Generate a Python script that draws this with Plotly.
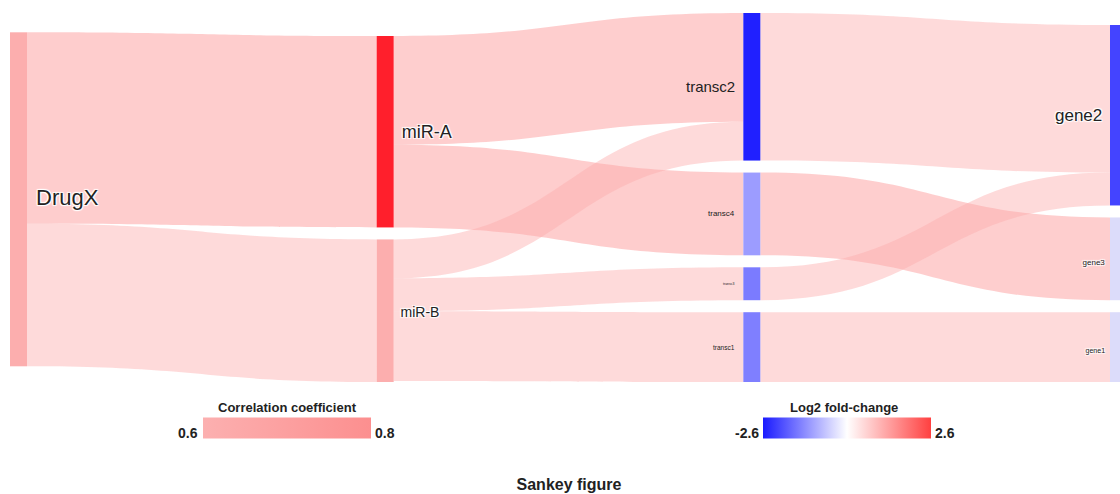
import plotly.graph_objects as go

# ---- data ----
node_names = ["DrugX", "miR-A", "miR-B", "transc2", "transc4", "transc3", "transc1", "gene2", "gene3", "gene1"]
node_layer = [0, 1, 1, 2, 2, 2, 2, 3, 3, 3]
node_label_sizes = [22, 18, 14, 15, 8, 3.5, 6.5, 17, 8, 7]
node_colors = ["#FCAEAE", "#FF1F2C", "#FCAEAE", "#2020FF", "#9C9CFF", "#7B7BFF", "#7F7FFF", "#4444FF", "#DCDCFA", "#DCDCFA"]

link_source = ["DrugX", "DrugX", "miR-A", "miR-A", "miR-B", "miR-B", "miR-B", "transc2", "transc4", "transc3", "transc1"]
link_target = ["miR-A", "miR-B", "transc2", "transc4", "transc2", "transc3", "transc1", "gene2", "gene3", "gene2", "gene1"]
link_value = [192, 143, 109, 83, 39, 33, 70, 148, 83, 33, 70]
link_corr = [0.79, 0.62, 0.78, 0.79, 0.61, 0.61, 0.61, 0.61, 0.78, 0.61, 0.61]

corr_range = [0.6, 0.8]
fc_range = [-2.6, 2.6]
corr_colorscale = [[0, "#FCB0B0"], [1, "#FC8F8F"]]
fc_colorscale = [[0, "#1A1AFF"], [0.5, "#FFFFFF"], [1, "#FF4040"]]

# ---- helpers ----
def hex_to_rgb(h):
    h = h.lstrip("#")
    return tuple(int(h[i:i + 2], 16) for i in (0, 2, 4))

lo = hex_to_rgb(corr_colorscale[0][1])
hi = hex_to_rgb(corr_colorscale[1][1])

def corr_color(c, alpha=0.45):
    t = (c - corr_range[0]) / (corr_range[1] - corr_range[0])
    t = max(0, min(1, t))
    r, g, b = [round(lo[i] + (hi[i] - lo[i]) * t) for i in range(3)]
    return f"rgba({r},{g},{b},{alpha})"

idx = {n: i for i, n in enumerate(node_names)}

FONT = "Liberation Sans, Arial, sans-serif"
W, H = 1127, 494
ML, MR, MT, MB = 10, 0, 13, 112
PW, PH = W - ML - MR, H - MT - MB
PAD, THICK = 12, 17
BASE_LABEL = 17
NBSP = "\u00a0"
TOP = MT
BOTTOM = TOP + PH

def px_x(p):
    return (p - ML) / PW

def px_y(p):
    return (BOTTOM - p) / PH

# node values (max of in/out flow)
inflow = [0] * len(node_names)
outflow = [0] * len(node_names)
for s, t, v in zip(link_source, link_target, link_value):
    outflow[idx[s]] += v
    inflow[idx[t]] += v
node_val = [max(a, b) for a, b in zip(inflow, outflow)]
n_layers = max(node_layer) + 1
ky = min(
    (PH - PAD * (sum(1 for l in node_layer if l == k) - 1)) / sum(v for v, l in zip(node_val, node_layer) if l == k)
    for k in range(n_layers)
)

# labels: plotly puts labels right of nodes except last layer; layer 2 labels go left via annotations
labels = []
extra_ann = []
cum = {k: 0.0 for k in range(n_layers)}
for i, n in enumerate(node_names):
    lay = node_layer[i]
    h = node_val[i] * ky
    center = cum[lay] + h / 2
    cum[lay] += h + PAD
    s = node_label_sizes[i]
    if lay == 2:
        labels.append("")
        x0 = lay * (PW - THICK) / (n_layers - 1)
        extra_ann.append(dict(
            text=n, x=(x0 - 6) / PW, y=1 - center / PH, xanchor="right", yanchor="middle",
            font=dict(family=FONT, size=s, color="#222222"),
        ))
    elif lay == n_layers - 1:
        labels.append(f"<span style='font-size:{s}px'>{n}{NBSP}</span>")
    else:
        labels.append(f"<span style='font-size:{s}px'>{NBSP}{n}</span>")

# last column stacked from the bottom (as in the reference layout)
last = [i for i, l in enumerate(node_layer) if l == n_layers - 1]
node_x = [None] * len(node_names)
node_y = [None] * len(node_names)
acc = 0.0
for i in reversed(last):
    h = node_val[i] * ky
    node_x[i] = (PW - THICK / 2) / PW
    node_y[i] = (PH - acc - h / 2) / PH
    acc += h + PAD

sankey = go.Sankey(
    arrangement="snap",
    domain=dict(x=[0, 1], y=[0, 1]),
    node=dict(
        label=labels,
        color=node_colors,
        pad=PAD,
        thickness=THICK,
        line=dict(width=0),
        x=node_x,
        y=node_y,
    ),
    link=dict(
        source=[idx[s] for s in link_source],
        target=[idx[t] for t in link_target],
        value=link_value,
        color=[corr_color(c) for c in link_corr],
    ),
    textfont=dict(family=FONT, size=BASE_LABEL, color="#222222"),
)

def cbar(cx):
    return dict(
        orientation="h", xref="paper", yref="container",
        x=px_x(cx), xanchor="center", y=1 - 427.5 / H, yanchor="middle",
        lenmode="pixels", len=168, thickness=21,
        outlinewidth=0, showticklabels=False, ticks="", xpad=0, ypad=0,
    )

cb1 = go.Scatter(
    x=[None], y=[None], mode="markers", showlegend=False, hoverinfo="skip",
    marker=dict(color=[corr_range[0]], cmin=corr_range[0], cmax=corr_range[1],
                colorscale=corr_colorscale, showscale=True, colorbar=cbar(287)),
)
cb2 = go.Scatter(
    x=[None], y=[None], mode="markers", showlegend=False, hoverinfo="skip",
    marker=dict(color=[fc_range[0]], cmin=fc_range[0], cmax=fc_range[1],
                colorscale=fc_colorscale, showscale=True, colorbar=cbar(847)),
)

fig = go.Figure([sankey, cb1, cb2])

title_font = dict(family=FONT, size=13, color="#222222")
tick_font = dict(family=FONT, size=14, color="#222222")
annotations = [
    dict(text="<b>Correlation coefficient</b>", x=px_x(287), y=px_y(407), xanchor="center", yanchor="middle", font=title_font),
    dict(text="<b>Log2 fold-change</b>", x=px_x(844), y=px_y(407), xanchor="center", yanchor="middle", font=title_font),
    dict(text=f"<b>{corr_range[0]}</b>", x=px_x(200), y=px_y(433), xanchor="right", yanchor="middle", font=tick_font),
    dict(text=f"<b>{corr_range[1]}</b>", x=px_x(373), y=px_y(433), xanchor="left", yanchor="middle", font=tick_font),
    dict(text=f"<b>{fc_range[0]}</b>", x=px_x(761), y=px_y(433), xanchor="right", yanchor="middle", font=tick_font),
    dict(text=f"<b>{fc_range[1]}</b>", x=px_x(933), y=px_y(433), xanchor="left", yanchor="middle", font=tick_font),
] + extra_ann
for a in annotations:
    a.update(xref="paper", yref="paper", showarrow=False)

fig.update_layout(
    width=W, height=H,
    margin=dict(l=ML, r=MR, t=MT, b=MB),
    paper_bgcolor="white", plot_bgcolor="white",
    font=dict(family=FONT, color="#222222"),
    title=dict(text="<b>Sankey figure</b>", x=569 / W, xanchor="center", y=1 - 484 / H, yanchor="middle",
               xref="container", yref="container", font=dict(family=FONT, size=16, color="#222222")),
    xaxis=dict(visible=False), yaxis=dict(visible=False),
    annotations=annotations,
)

fig.write_html(
    "out.html",
    config={"displayModeBar": False},
    post_script="document.body.style.margin='0';document.body.style.overflow='hidden';"
                "document.documentElement.style.overflow='hidden';",
)
